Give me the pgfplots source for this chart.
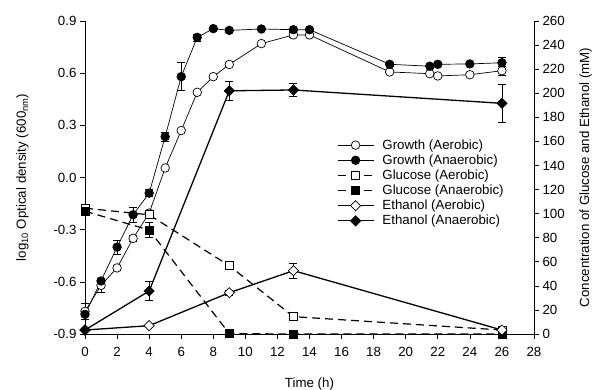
\documentclass[border=0pt]{standalone}
\usepackage{fontspec}
\setmainfont{Liberation Sans}
\usepackage{pgfplots}
\usepackage{pgfplotstable}
\pgfplotsset{compat=1.18}

\pgfplotstableread{
x y e
0 -0.770 0.045
1 -0.620 0.040
2 -0.520 0.015
3 -0.350 0.015
4 -0.205 0.015
5 0.055 0.010
6 0.270 0.010
7 0.490 0.010
8 0.580 0.010
9 0.650 0.010
11 0.770 0.010
13 0.820 0.015
14 0.820 0.010
19 0.607 0.010
21.5 0.597 0.010
22 0.584 0.010
24 0.591 0.010
26 0.614 0.025
}\growthaer

\pgfplotstableread{
x y e
0 -0.787 0.030
1 -0.595 0.015
2 -0.400 0.040
3 -0.214 0.045
4 -0.090 0.020
5 0.235 0.027
6 0.580 0.080
7 0.806 0.020
8 0.856 0.010
9 0.846 0.010
11 0.854 0.010
13 0.850 0.010
14 0.850 0.010
19 0.651 0.010
21.5 0.640 0.010
22 0.651 0.010
24 0.653 0.010
26 0.660 0.030
}\growthana

\pgfplotstableread{
x y e
0 104.5 2
4 99.0 3
9 56.7 2
13 14.4 2
26 3.3 1
}\glucaer

\pgfplotstableread{
x y e
0 102.0 2
4 86.4 6
9 0.3 1
13 0.0 1
26 0.0 1
}\glucana

\pgfplotstableread{
x y e
0 3.3 1
4 6.9 1
9 34.3 2
13 52.6 6
26 3.3 1
}\ethaer

\pgfplotstableread{
x y e
0 3.3 1
4 35.7 8
9 202.0 8
13 202.7 5.5
26 191.6 16
}\ethana

\begin{document}
\begin{tikzpicture}[font=\fontsize{13.3}{16}\selectfont]
\useasboundingbox (0,0) rectangle (598pt,390pt);
\pgfplotsset{
  common/.style={
    at={(85pt,56pt)}, anchor=south west, scale only axis,
    width=449pt, height=313pt, xmin=0, xmax=28, clip=false,
    tick align=outside, major tick length=5pt,
    tick style={black, line width=0.6pt},
    axis line style={line width=0.6pt},
    /pgf/number format/assume math mode=true,
    error bars/error bar style={line width=0.6pt, black},
    error bars/error mark options={line width=0.6pt, mark size=4pt, rotate=90},
  },
}
\begin{axis}[common,
  ymin=-0.9, ymax=0.9,
  axis x line*=bottom, axis y line*=left,
  xtick={0,2,...,28},
  ytick={-0.9,-0.6,-0.3,0,0.3,0.6,0.9},
  yticklabel style={/pgf/number format/fixed, /pgf/number format/precision=1, /pgf/number format/fixed zerofill},
  xticklabel style={yshift=-5pt},
  xlabel={Time (h)},
  ylabel={log\textsubscript{10} Optical density (600\textsubscript{nm})},
  xlabel style={yshift=-14pt},
  ylabel style={yshift=18pt},
]
\addplot[black, line width=0.7pt, mark=*, mark size=4.3pt, mark options={fill=white, line width=0.7pt},
  error bars/.cd, y dir=both, y explicit] table[x=x, y=y, y error=e] {\growthaer};
\addplot[black, line width=0.7pt, mark=*, mark size=4.3pt, mark options={fill=black, line width=0.7pt},
  error bars/.cd, y dir=both, y explicit] table[x=x, y=y, y error=e] {\growthana};
\end{axis}

\begin{axis}[common,
  ymin=0, ymax=260,
  axis x line=none, axis y line*=right,
  ytick={0,20,...,260},
  ylabel={Concentration of Glucose and Ethanol (mM)},
  ylabel style={yshift=-8pt},
  legend cell align=left,
  legend style={draw=none, fill=none, at={(axis description cs:0.554,0.632)}, anchor=north west,
    row sep=1.6pt, nodes={inner sep=1.2pt}},
  legend image code/.code={
    \draw[mark repeat=2, mark phase=2, #1] plot coordinates {(0pt,0pt) (18pt,0pt) (36pt,0pt)};
    \path (43pt,0pt);
  },
]
\addlegendimage{black, line width=0.7pt, mark=*, mark size=4.3pt, mark options={fill=white, line width=0.7pt, solid}}
\addlegendentry{Growth (Aerobic)}
\addlegendimage{black, line width=0.7pt, mark=*, mark size=4.3pt, mark options={fill=black, line width=0.7pt, solid}}
\addlegendentry{Growth (Anaerobic)}
\addplot[black, line width=1.2pt, dash pattern=on 8pt off 5pt, mark=square*, mark size=4pt,
  mark options={fill=white, line width=0.7pt, solid},
  error bars/.cd, y dir=both, y explicit] table[x=x, y=y, y error=e] {\glucaer};
\addlegendentry{Glucose (Aerobic)}
\addplot[black, line width=1.2pt, dash pattern=on 8pt off 5pt, mark=square*, mark size=4pt,
  mark options={fill=black, line width=0.7pt, solid},
  error bars/.cd, y dir=both, y explicit] table[x=x, y=y, y error=e] {\glucana};
\addlegendentry{Glucose (Anaerobic)}
\addplot[black, line width=1.3pt, mark=square*, mark size=3.6pt,
  mark options={fill=white, line width=0.7pt, rotate=45},
  error bars/.cd, y dir=both, y explicit] table[x=x, y=y, y error=e] {\ethaer};
\addlegendentry{Ethanol (Aerobic)}
\addplot[black, line width=1.3pt, mark=square*, mark size=3.6pt,
  mark options={fill=black, line width=0.7pt, rotate=45},
  error bars/.cd, y dir=both, y explicit] table[x=x, y=y, y error=e] {\ethana};
\addlegendentry{Ethanol (Anaerobic)}
\end{axis}
\end{tikzpicture}
\end{document}
